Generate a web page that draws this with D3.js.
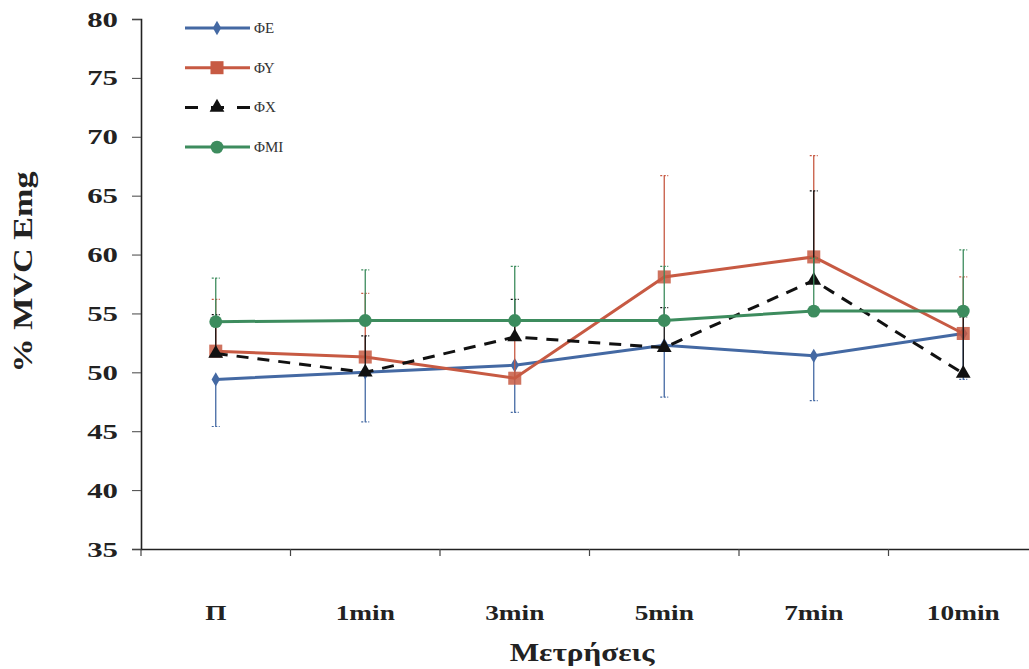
<!DOCTYPE html>
<html>
<head>
<meta charset="utf-8">
<script src="https://cdn.jsdelivr.net/npm/d3@7"></script>
<style>
  body { margin: 0; background: #fff; }
  svg { display: block; }
  text { font-family: "Liberation Serif", "Times New Roman", serif; }
</style>
</head>
<body>
<svg id="chart" width="1029" height="669"></svg>
<script>
// categories and series
const categories = ['Π', '1min', '3min', '5min', '7min', '10min'];
const yTicks = [35, 40, 45, 50, 55, 60, 65, 70, 75, 80];

const seriesNames = ['ΦΕ', 'ΦΥ', 'ΦΧ', 'ΦΜΙ'];
const valuesFE  = [49.4, 50.0, 50.6, 52.3, 51.4, 53.3];
const valuesFY  = [51.8, 51.3, 49.5, 58.1, 59.8, 53.3];
const valuesFX  = [51.6, 50.0, 53.0, 52.1, 57.8, 49.9];
const valuesFMI = [54.3, 54.4, 54.4, 54.4, 55.2, 55.2];

// standard deviations; ΦΕ drawn downward, the others upward
const errFE  = [4.0, 4.2, 4.0, 4.4, 3.8, 3.9];
const errFY  = [4.4, 5.4, 5.0, 8.6, 8.6, 4.8];
const errFX  = [3.3, 3.1, 3.2, 3.4, 7.6, 4.8];
const errFMI = [3.7, 4.3, 4.6, 4.6, 4.5, 5.2];

const series = [
    { name: seriesNames[0], values: valuesFE,  err: errFE,  dir: -1, color: '#4469a3', dash: null,   marker: 'diamond' },
    { name: seriesNames[1], values: valuesFY,  err: errFY,  dir: 1,  color: '#c75a43', dash: null,   marker: 'square' },
    { name: seriesNames[2], values: valuesFX,  err: errFX,  dir: 1,  color: '#111111', dash: '12,9', marker: 'triangle' },
    { name: seriesNames[3], values: valuesFMI, err: errFMI, dir: 1,  color: '#3d8c5e', dash: null,   marker: 'circle' }
];

const svg = d3.select('#chart');
const plotLeft = 141, plotRight = 1038, plotTop = 19, plotBottom = 549;

const x = d3.scaleBand().domain(categories).range([plotLeft, plotRight]);
const y = d3.scaleLinear().domain([35, 80]).range([plotBottom, plotTop]);

const symbolType = {
    diamond: d3.symbolDiamond,
    square: d3.symbolSquare,
    triangle: d3.symbolTriangle,
    circle: d3.symbolCircle
};
const symbolSize = { diamond: 60, square: 170, triangle: 95, circle: 130 };

// the scanned figure is wider than tall, so its lettering looks stretched
function stretch(sel, k) {
    sel.each(function() {
        const w = this.getComputedTextLength();
        d3.select(this).attr('textLength', w * k).attr('lengthAdjust', 'spacingAndGlyphs');
    });
}

// y axis
const yAxis = svg.append('g')
    .attr('transform', `translate(${plotLeft},0)`)
    .call(d3.axisLeft(y).tickValues(yTicks).tickSize(9).tickPadding(14));
yAxis.select('.domain').attr('stroke', '#222').attr('stroke-width', 1.6);
yAxis.selectAll('.tick line').attr('stroke', '#444').attr('stroke-width', 1);
yAxis.selectAll('.tick text')
    .attr('font-size', 22).attr('font-weight', 'bold').attr('fill', '#222')
    .style('font-family', '"Liberation Serif", serif')
    .call(stretch, 1.4);

// x axis with ticks between categories
const xAxis = svg.append('g')
    .attr('transform', `translate(0,${plotBottom})`)
    .call(d3.axisBottom(x).tickSize(0).tickPadding(56));
xAxis.select('.domain').attr('stroke', '#222').attr('stroke-width', 1.6);
xAxis.selectAll('.tick text')
    .attr('font-size', 21).attr('font-weight', 'bold').attr('fill', '#222')
    .style('font-family', '"Liberation Serif", serif')
    .call(stretch, 1.3);
xAxis.selectAll(null)
    .data(categories)
    .enter().append('line')
    .attr('x1', d => x(d)).attr('x2', d => x(d))
    .attr('y1', 0).attr('y2', 7)
    .attr('stroke', '#444').attr('stroke-width', 1.2);

const cx = d => x(d) + x.bandwidth() / 2;

// series: error bars, lines, markers
series.forEach(s => {
    const g = svg.append('g');
    const pts = categories.map((c, i) => ({ c, v: s.values[i], e: s.err[i] * s.dir }));

    g.selectAll(null).data(pts).enter().append('line')
        .attr('x1', d => cx(d.c)).attr('x2', d => cx(d.c))
        .attr('y1', d => y(d.v)).attr('y2', d => y(d.v + d.e))
        .attr('stroke', s.color).attr('stroke-width', 1.3);
    g.selectAll(null).data(pts).enter().append('line')
        .attr('x1', d => cx(d.c) - 4).attr('x2', d => cx(d.c) + 4)
        .attr('y1', d => y(d.v + d.e))
        .attr('y2', d => y(d.v + d.e))
        .attr('stroke', s.color).attr('stroke-width', 1.2)
        .attr('stroke-dasharray', '2,1.5');

    const line = d3.line().x(d => cx(d.c)).y(d => y(d.v));
    g.append('path').datum(pts)
        .attr('d', line)
        .attr('fill', 'none')
        .attr('stroke', s.color)
        .attr('stroke-width', 3)
        .attr('stroke-dasharray', s.dash);

    g.selectAll(null).data(pts).enter().append('path')
        .attr('d', d3.symbol().type(symbolType[s.marker]).size(symbolSize[s.marker]))
        .attr('transform', d => `translate(${cx(d.c)},${y(d.v)})`)
        .attr('fill', s.color)
        .attr('opacity', s.marker === 'square' ? 0.85 : 1);
});

// legend
const legend = svg.append('g');
series.forEach((s, i) => {
    const ly = 28 + i * 39.7;
    legend.append('line')
        .attr('x1', 185).attr('x2', 250).attr('y1', ly).attr('y2', ly)
        .attr('stroke', s.color).attr('stroke-width', 3)
        .attr('stroke-dasharray', s.dash ? '13,13' : null);
    legend.append('path')
        .attr('d', d3.symbol().type(symbolType[s.marker]).size(symbolSize[s.marker]))
        .attr('transform', `translate(217,${ly})`)
        .attr('fill', s.color);
    legend.append('text')
        .attr('x', 254).attr('y', ly + 5)
        .attr('font-size', 15).attr('fill', '#333')
        .text(s.name);
});

// axis titles
svg.append('text')
    .attr('transform', 'translate(32,272) rotate(-90)')
    .attr('text-anchor', 'middle')
    .attr('font-size', 28).attr('font-weight', 'bold').attr('fill', '#222')
    .text('% MVC Emg')
    .call(stretch, 1.22);

svg.append('text')
    .attr('x', 582).attr('y', 661)
    .attr('text-anchor', 'middle')
    .attr('font-size', 26).attr('font-weight', 'bold').attr('fill', '#222')
    .text('Μετρήσεις')
    .call(stretch, 1.2);
</script>
</body>
</html>
